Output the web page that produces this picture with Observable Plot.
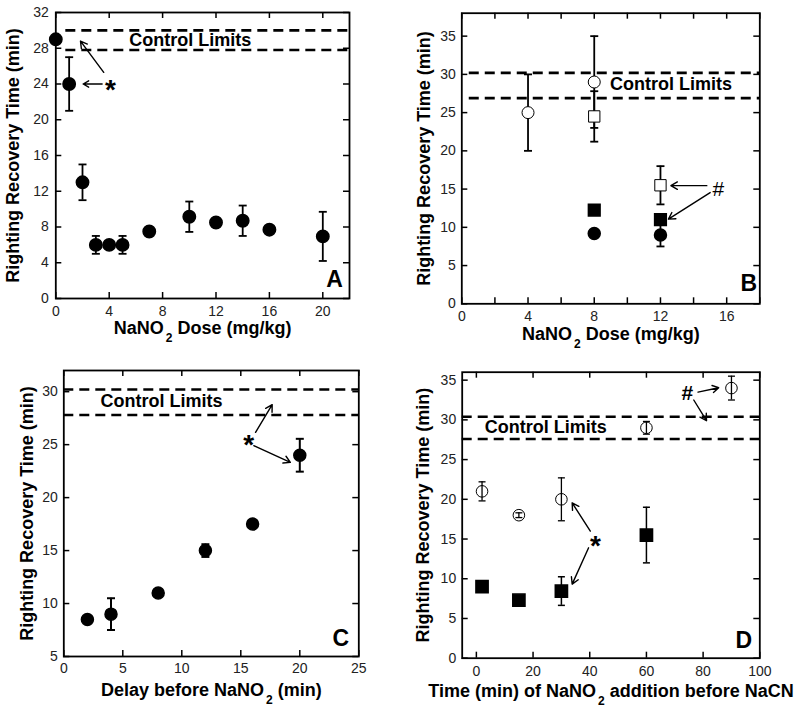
<!DOCTYPE html>
<html>
<head>
<meta charset="utf-8">
<script src="https://cdn.jsdelivr.net/npm/d3@7"></script>
<script src="https://cdn.jsdelivr.net/npm/@observablehq/plot@0.6"></script>
<style>
  body { margin: 0; background: #fff; }
  #wrap { position: relative; width: 800px; height: 711px; overflow: hidden; background: #fff;
          font-family: "Liberation Sans", Arial, Helvetica, sans-serif; }
  .panel { position: absolute; }
</style>
</head>
<body>
<div id="wrap"></div>
<script>
// ---------------- DATA ----------------
// Panel A: NaNO2 dose vs righting recovery time
const doseA = [0, 1, 2, 3, 4, 5, 7, 10, 12, 14, 16, 20];
const timeA = [29, 24, 13, 6, 6, 6, 7.5, 9.15, 8.5, 8.7, 7.7, 6.95];
const semA  = [0, 3, 2, 1, 0, 1, 0, 1.7, 0, 1.7, 0, 2.75];
const limitsA = [30.0, 27.8];

// Panel B: four series at 4, 8, 12 mg/kg
const openCircleDoseB = [4, 8];
const openCircleTimeB = [25, 29];
const openCircleSemB  = [5, 6];
const openSquareDoseB = [8, 12];
const openSquareTimeB = [24.5, 15.5];
const openSquareSemB  = [3.3, 2.5];
const fillSquareDoseB = [8, 12];
const fillSquareTimeB = [12.25, 11];
const fillSquareSemB  = [0, 0];
const fillCircleDoseB = [8, 12];
const fillCircleTimeB = [9.2, 9.0];
const fillCircleSemB  = [0, 1.5];
const limitsB = [30.2, 26.9];

// Panel C: delay before NaNO2
const delayC = [2, 4, 8, 12, 16, 20];
const timeC  = [8.5, 9, 11, 15, 17.5, 24];
const semC   = [0, 1.5, 0, 0.6, 0, 1.55];
const limitsC = [30.2, 27.8];

// Panel D: time of NaNO2 addition before NaCN
const openCircleTimeD = [2, 15, 30, 60, 90];
const openCircleRecD  = [21, 18, 20, 29, 34];
const openCircleSemD  = [1.2, 0.3, 2.7, 0.8, 1.5];
const fillSquareTimeD = [2, 15, 30, 60];
const fillSquareRecD  = [9, 7.3, 8.45, 15.5];
const fillSquareSemD  = [0, 0, 1.8, 3.5];
const limitsD = [30.4, 27.6];

// Tick values
const xTicksA = [0, 4, 8, 12, 16, 20];
const yTicksA = [0, 4, 8, 12, 16, 20, 24, 28, 32];
const xTicksB = [0, 4, 8, 12, 16];
const xMarksB = [0, 2, 4, 6, 8, 10, 12, 14, 16, 18];
const yTicksB = [0, 5, 10, 15, 20, 25, 30, 35];
const xTicksC = [0, 5, 10, 15, 20, 25];
const yTicksC = [5, 10, 15, 20, 25, 30];
const xTicksD = [0, 20, 40, 60, 80, 100];
const yTicksD = [0, 5, 10, 15, 20, 25, 30, 35];

// Text labels
const yTitle = "Righting Recovery Time (min)";
const xTitleA = "NaNO\u2082 Dose (mg/kg)";
const xTitleB = "NaNO\u2082 Dose (mg/kg)";
const xTitleC = "Delay before NaNO\u2082 (min)";
const xTitleD = "Time (min) of NaNO\u2082 addition before NaCN";
const limitLabel = "Control Limits";

// Annotations (data units)
const labelA = [{x: 10.07, y: 28.95}];
const starsA = [{x: 4.1, y: 24.0, t: "*"}];
const arrowsA = [{x1: 3.47, y1: 24.0, x2: 2.05, y2: 24.0}, {x1: 3.59, y1: 25.3, x2: 1.85, y2: 28.8}];

const labelB = [{x: 12.64, y: 28.66}];
const hashB = [{x: 15.5, y: 15.0, t: "#"}];
const arrowsB = [{x1: 14.8, y1: 15.45, x2: 12.63, y2: 15.45}, {x1: 15.0, y1: 14.54, x2: 12.48, y2: 11.07}];

const labelC = [{x: 8.28, y: 29.06}];
const starsC = [{x: 15.68, y: 25.54, t: "*"}];
const arrowsC = [{x1: 16.25, y1: 26.16, x2: 17.66, y2: 28.77}, {x1: 16.1, y1: 24.9, x2: 19.2, y2: 23.33}];

const labelD = [{x: 24.5, y: 29.07}];
const starsD = [{x: 42, y: 14.87, t: "*"}];
const hashD = [{x: 74.4, y: 33.4, t: "#"}];
const arrowsD = [
  {x1: 40.2, y1: 16.0, x2: 33.8, y2: 19.55},
  {x1: 39.6, y1: 13.9, x2: 33.8, y2: 9.32},
  {x1: 78.2, y1: 33.5, x2: 85.5, y2: 34.05},
  {x1: 76.7, y1: 32.5, x2: 81.2, y2: 29.9}
];

// ---------------- HELPERS ----------------
const toRows = (xs, ys, es) => xs.map((x, i) => ({x, y: ys[i], e: es[i]}));
const capSymbol = {
  draw(ctx, size) { const w = Math.sqrt(size / Math.PI); ctx.moveTo(-w, 0); ctx.lineTo(w, 0); }
};

function errorBars(rows, sw = 1.8, cap = 4) {
  const d = rows.filter(p => p.e > 0);
  return [
    Plot.ruleX(d, {x: "x", y1: p => p.y - p.e, y2: p => p.y + p.e, stroke: "black", strokeWidth: sw}),
    Plot.dot(d, {x: "x", y: p => p.y + p.e, symbol: capSymbol, r: cap, fill: "none", stroke: "black", strokeWidth: sw}),
    Plot.dot(d, {x: "x", y: p => p.y - p.e, symbol: capSymbol, r: cap, fill: "none", stroke: "black", strokeWidth: sw})
  ];
}

function limitLines(values, x1, x2) {
  return Plot.ruleY(values, {y: d => d, x1: () => x1, x2: () => x2, stroke: "black",
    strokeWidth: 2.6, strokeDasharray: "10,6"});
}

function frameTicks(cfg) {
  const innerW = cfg.width - cfg.ml - cfg.mr, innerH = cfg.height - cfg.mt - cfg.mb;
  const [x0, x1] = cfg.xDomain, [y0, y1] = cfg.yDomain;
  const kx = 6 * (x1 - x0) / innerW, ky = 6 * (y1 - y0) / innerH;   // 6px tick length in data units
  const o = {stroke: "black", strokeWidth: 1.5};
  const xm = cfg.xMarks || cfg.xTicks, ym = cfg.yMarks || cfg.yTicks;
  return [
    Plot.ruleX(xm, {x: d => d, y1: () => y0, y2: () => y0 + ky, ...o}),
    Plot.ruleX(xm, {x: d => d, y1: () => y1 - ky, y2: () => y1, ...o}),
    Plot.ruleY(ym, {y: d => d, x1: () => x0, x2: () => x0 + kx, ...o}),
    Plot.ruleY(ym, {y: d => d, x1: () => x1 - kx, x2: () => x1, ...o}),
    Plot.axisX(cfg.xTicks, {tickSize: 0, tickPadding: cfg.xPad, fontSize: 14, color: "#222", label: null}),
    Plot.axisY(cfg.yTicks, {tickSize: 0, tickPadding: cfg.yPad, fontSize: 14, color: "#222", label: null}),
    Plot.text([cfg.xTitle], {text: d => d, frameAnchor: "bottom", dy: cfg.xTitleDy, fontSize: 18,
      fontWeight: "bold", textAnchor: "middle", lineAnchor: "middle", fill: "black"}),
    Plot.text([yTitle], {text: d => d, frameAnchor: "left", rotate: -90, dx: cfg.yTitleDx, fontSize: 18,
      fontWeight: "bold", textAnchor: "middle", lineAnchor: "middle", fill: "black"}),
    Plot.text([cfg.letter], {text: d => d, frameAnchor: "bottom-right", dx: cfg.letterDx, dy: cfg.letterDy,
      fontSize: 23, fontWeight: "bold", textAnchor: "middle", lineAnchor: "middle", fill: "black"}),
    Plot.frame({stroke: "black", strokeWidth: 1.8})
  ];
}

function labelMarks(label, stars, arrows, hashes, hashBold) {
  const m = [];
  if (arrows) m.push(Plot.arrow(arrows, {x1: "x1", y1: "y1", x2: "x2", y2: "y2", stroke: "black",
    strokeWidth: 1.4, headLength: 8}));
  if (label) m.push(Plot.text(label, {x: "x", y: "y", text: () => limitLabel, fontSize: 18,
    fontWeight: "bold", textAnchor: "middle", lineAnchor: "middle", fill: "black"}));
  if (stars) m.push(Plot.text(stars, {x: "x", y: "y", text: "t", fontSize: 28, fontWeight: "bold",
    textAnchor: "middle", lineAnchor: "middle", dy: 6, fill: "black"}));
  if (hashes) m.push(Plot.text(hashes, {x: "x", y: "y", text: "t", fontSize: 21,
    fontWeight: hashBold ? "bold" : "normal", textAnchor: "middle", lineAnchor: "middle", fill: "black"}));
  return m;
}

function subscripts(svg) {
  const ns = "http://www.w3.org/2000/svg";
  svg.querySelectorAll("text").forEach(t => {
    const s = t.textContent;
    if (!s.includes("\u2082")) return;
    const [a, b] = s.split("\u2082");
    while (t.firstChild) t.removeChild(t.firstChild);
    const t1 = document.createElementNS(ns, "tspan"); t1.textContent = a;
    const t2 = document.createElementNS(ns, "tspan"); t2.textContent = "2";
    t2.setAttribute("font-size", "12"); t2.setAttribute("dy", "8"); t2.setAttribute("dx", "2");
    const t3 = document.createElementNS(ns, "tspan"); t3.textContent = b;
    t3.setAttribute("dy", "-8");
    t.append(t1, t2, t3);
  });
}

function render(cfg, marks, left, top) {
  const svg = Plot.plot({
    width: cfg.width, height: cfg.height,
    marginLeft: cfg.ml, marginRight: cfg.mr, marginTop: cfg.mt, marginBottom: cfg.mb,
    x: {domain: cfg.xDomain, label: null},
    y: {domain: cfg.yDomain, label: null},
    style: {fontFamily: '"Liberation Sans", Arial, Helvetica, sans-serif', overflow: "visible",
      background: "transparent", color: "black"},
    marks: [...marks, ...frameTicks(cfg)]
  });
  subscripts(svg);
  const div = document.createElement("div");
  div.className = "panel";
  div.style.left = left + "px";
  div.style.top = top + "px";
  div.appendChild(svg);
  document.getElementById("wrap").appendChild(div);
}

// ---------------- PANEL A ----------------
const rowsA = toRows(doseA, timeA, semA);
render({
  width: 400, height: 340, ml: 55.3, mr: 51, mt: 12, mb: 42,
  xDomain: [0, 22], yDomain: [0, 32], xTicks: xTicksA, yTicks: yTicksA,
  xPad: 8, yPad: 7, xTitle: xTitleA, xTitleDy: 30, yTitleDx: -43,
  letter: "A", letterDx: -15, letterDy: -19
}, [
  limitLines(limitsA, 0.75, 22),
  ...errorBars(rowsA, 1.8, 4),
  Plot.dot(rowsA, {x: "x", y: "y", r: 6.2, fill: "black", stroke: "black"}),
  ...labelMarks(labelA, starsA, arrowsA)
], 0, 0);

// ---------------- PANEL B ----------------
const ocB = toRows(openCircleDoseB, openCircleTimeB, openCircleSemB);
const osB = toRows(openSquareDoseB, openSquareTimeB, openSquareSemB);
const fsB = toRows(fillSquareDoseB, fillSquareTimeB, fillSquareSemB);
const fcB = toRows(fillCircleDoseB, fillCircleTimeB, fillCircleSemB);
render({
  width: 400, height: 340, ml: 61.3, mr: 40.7, mt: 12.7, mb: 36.7,
  xDomain: [0, 18], yDomain: [0, 38], xTicks: xTicksB, xMarks: xMarksB, yTicks: yTicksB,
  xPad: 7, yPad: 6, xTitle: xTitleB, xTitleDy: 30, yTitleDx: -38,
  letter: "B", letterDx: -11, letterDy: -20
}, [
  limitLines(limitsB, 0.45, 18),
  ...errorBars(ocB, 1.8, 4),
  ...errorBars(osB, 1.8, 4),
  ...errorBars(fcB, 1.8, 4),
  Plot.dot(fcB, {x: "x", y: "y", r: 6, fill: "black", stroke: "black"}),
  Plot.dot(fsB, {x: "x", y: "y", symbol: "square", r: 6.6, fill: "black", stroke: "black"}),
  Plot.dot(osB, {x: "x", y: "y", symbol: "square", r: 6.4, fill: "white", stroke: "black", strokeWidth: 1}),
  Plot.dot(ocB, {x: "x", y: "y", r: 6, fill: "white", stroke: "black", strokeWidth: 1}),
  ...labelMarks(labelB, null, arrowsB, hashB, false)
], 400, 0);

// ---------------- PANEL C ----------------
const rowsC = toRows(delayC, timeC, semC);
render({
  width: 400, height: 371, ml: 63.3, mr: 41.7, mt: 30, mb: 55,
  xDomain: [0, 25], yDomain: [5, 32], xTicks: xTicksC, yTicks: yTicksC,
  xPad: 7, yPad: 6, xTitle: xTitleC, xTitleDy: 34, yTitleDx: -37,
  letter: "C", letterDx: -18, letterDy: -18
}, [
  limitLines(limitsC, 0, 25),
  ...errorBars(rowsC, 2, 4),
  Plot.dot(rowsC, {x: "x", y: "y", r: 6, fill: "black", stroke: "black"}),
  ...labelMarks(labelC, starsC, arrowsC)
], 0, 340);

// ---------------- PANEL D ----------------
const ocD = toRows(openCircleTimeD, openCircleRecD, openCircleSemD);
const fsD = toRows(fillSquareTimeD, fillSquareRecD, fillSquareSemD);
render({
  width: 400, height: 371, ml: 61.7, mr: 40.7, mt: 31.7, mb: 53.3,
  xDomain: [-5, 100], yDomain: [0, 36], xTicks: xTicksD, yTicks: yTicksD,
  xPad: 7.5, yPad: 6, xTitle: xTitleD, xTitleDy: 33, yTitleDx: -39,
  letter: "D", letterDx: -16, letterDy: -18
}, [
  limitLines(limitsD, -5, 100),
  ...errorBars(ocD, 1.3, 3.5),
  ...errorBars(fsD, 1.5, 3.5),
  Plot.dot(fsD, {x: "x", y: "y", symbol: "square", r: 6.9, fill: "black", stroke: "black"}),
  Plot.dot(ocD, {x: "x", y: "y", r: 5.8, fill: "none", stroke: "black", strokeWidth: 1}),
  ...labelMarks(labelD, starsD, arrowsD, hashD, true)
], 400, 340);
</script>
</body>
</html>
